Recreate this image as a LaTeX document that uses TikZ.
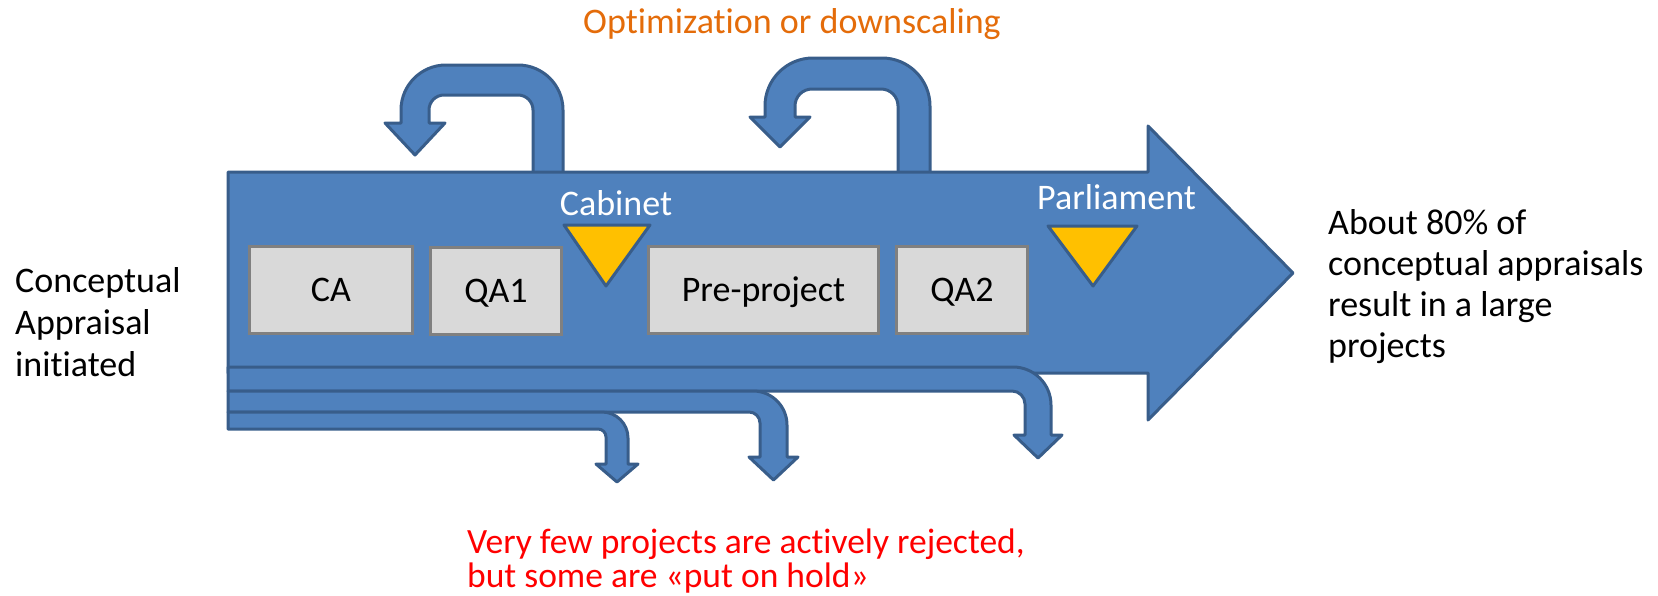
\documentclass[tikz,border=0pt]{standalone}
\usepackage{fontspec}
\setmainfont{Carlito}[Ligatures=NoCommon]
\definecolor{arrowfill}{HTML}{4F81BD}
\definecolor{arrowline}{HTML}{385D8A}
\definecolor{boxfill}{HTML}{D9D9D9}
\definecolor{boxline}{HTML}{808080}
\definecolor{gatefill}{HTML}{FFC000}
\definecolor{optorange}{HTML}{E46C0A}
\definecolor{holdred}{HTML}{FF0000}
\begin{document}
\begin{tikzpicture}[x=1pt,y=-1pt,
  flow/.style={fill=arrowfill,draw=arrowline,line width=3pt,line join=round},
  stagebox/.style={draw=boxline,fill=boxfill,line width=3pt,minimum height=87pt,
    text height=23pt,text depth=0pt,inner sep=0pt,font=\fontsize{36}{42}\selectfont},
  gatemark/.style={fill=gatefill,draw=arrowline,line width=3pt,line join=round},
  lbl/.style={font=\fontsize{36}{42}\selectfont,inner sep=0pt},
  redlbl/.style={font=\fontsize{35.5}{42}\selectfont,inner sep=0pt,text=holdred},
]
\useasboundingbox (0,0) rectangle (1658,595);

% loop-back arrows (behind the main arrow)
\path[flow] (563,180) -- (563,110) arc[start angle=0,end angle=-90,radius=45]
  -- (446,65) arc[start angle=-90,end angle=-180,radius=45]
  -- (401,123) -- (385,123) -- (415,155) -- (445,123) -- (429,123)
  -- (429,110) arc[start angle=180,end angle=270,radius=15]
  -- (518,95) arc[start angle=-90,end angle=0,radius=15] -- (533,180) -- cycle;
\path[flow] (930,180) -- (930,106) arc[start angle=0,end angle=-90,radius=48]
  -- (813,58) arc[start angle=-90,end angle=-180,radius=48]
  -- (765,117) -- (750,117) -- (780,147) -- (810,117) -- (795,117)
  -- (795,106) arc[start angle=180,end angle=270,radius=17]
  -- (881,89) arc[start angle=-90,end angle=0,radius=17] -- (898,180) -- cycle;

% main arrow
\path[flow] (228,172) -- (1148,172) -- (1148,126) -- (1293,273) -- (1148,420)
  -- (1148,373) -- (228,373) -- cycle;

% exit arrows (projects put on hold)
\path[flow] (228,367) -- (1013,367) arc[start angle=-90,end angle=0,radius=38]
  -- (1051,435) -- (1062,435) -- (1038,458) -- (1014,435) -- (1025,435)
  -- (1025,404) arc[start angle=0,end angle=-90,radius=13] -- (228,391) -- cycle;
\path[flow] (228,391) -- (753,391) arc[start angle=-90,end angle=0,radius=34]
  -- (787,457) -- (798,457) -- (773.5,480) -- (749,457) -- (760,457)
  -- (760,423) arc[start angle=0,end angle=-90,radius=11] -- (228,412) -- cycle;
\path[flow] (228,412) -- (602,412) arc[start angle=-90,end angle=0,radius=26]
  -- (628,464) -- (638,464) -- (617,482) -- (596,464) -- (606,464)
  -- (606,437) arc[start angle=0,end angle=-90,radius=8] -- (228,429) -- cycle;

% stages
\node[stagebox,minimum width=163pt] (ca) at (331,290) {CA};
\node[stagebox,minimum width=131pt] (qa1) at (496,291) {QA1};
\node[stagebox,minimum width=230pt] (pre) at (763.5,290) {Pre-project};
\node[stagebox,minimum width=131pt] (qa2) at (962,290) {QA2};

% decision gates
\path[gatemark] (564,225) -- (650,225) -- (606,286) -- cycle;
\path[gatemark] (1048,226) -- (1137,226) -- (1093,286) -- cycle;
\node[lbl,text=white,anchor=base] (cab) at (616,215) {Cabinet};
\node[lbl,text=white,anchor=base] (parl) at (1116.5,209) {Parliament};

% texts
\node[lbl,text=optorange,anchor=base] (opt) at (792,33) {Optimization or downscaling};

\node[lbl,anchor=base west] (l1) at (15,292) {Conceptual};
\node[lbl,anchor=base west] (l2) at (15,334) {Appraisal};
\node[lbl,anchor=base west] (l3) at (15,376) {initiated};

\node[lbl,anchor=base west] (r1) at (1328,234) {About 80\% of};
\node[lbl,anchor=base west] (r2) at (1328,275) {conceptual appraisals};
\node[lbl,anchor=base west] (r3) at (1328,316) {result in a large};
\node[lbl,anchor=base west] (r4) at (1328,357) {projects};

\node[redlbl,anchor=base west] (h1) at (467,553) {Very few projects are actively rejected,};
\node[redlbl,anchor=base west] (h2) at (467,587) {but some are «put on hold»};
\end{tikzpicture}
\end{document}
